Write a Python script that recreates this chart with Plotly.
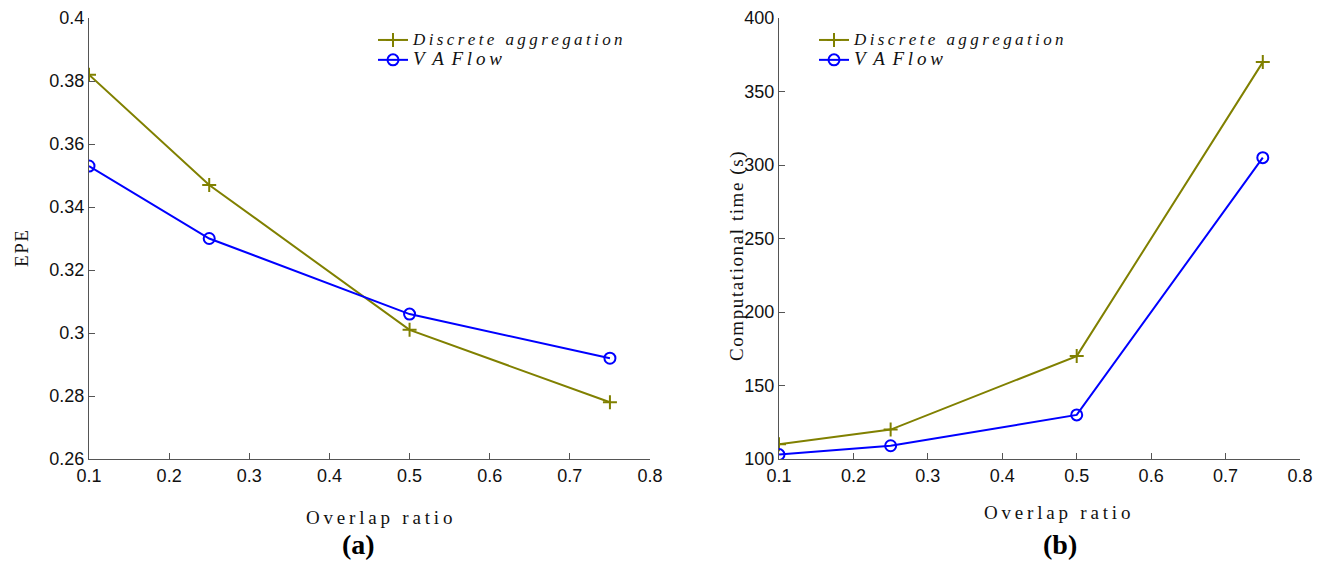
import plotly.graph_objects as go

overlap = [0.1, 0.25, 0.5, 0.75]
epe_discrete = [0.382, 0.347, 0.301, 0.278]
epe_vaflow = [0.353, 0.330, 0.306, 0.292]
time_discrete = [110, 120, 170, 370]
time_vaflow = [103, 109, 130, 305]
x_ticks = [0.1, 0.2, 0.3, 0.4, 0.5, 0.6, 0.7, 0.8]
epe_ticks = [0.26, 0.28, 0.3, 0.32, 0.34, 0.36, 0.38, 0.4]
epe_ticktext = ["0.26", "0.28", "0.3", "0.32", "0.34", "0.36", "0.38", "0.4"]
time_ticks = [100, 150, 200, 250, 300, 350, 400]

W, H = 1326, 562
OLIVE = "#808000"
BLUE = "#0000ff"
TH = "\u2009"   # thin space used as letter spacing
HA = "\u200a"   # hair space
NB = "\u00a0"   # non-breaking word space


def spaced(s, sep):
    return sep.join(list(s))


name_discrete = ('<span style="font-size:17px"><i>' + spaced("Discrete", TH) + TH + NB + TH
                 + spaced("aggregation", TH) + "</i></span>")
name_vaflow = ('<span style="font-size:19px"><i>V' + TH + TH + "A" + TH + TH + "F" + TH + "l" + TH + "o"
               + TH + "w</i></span>")

fig = go.Figure()


def add_pair(xa, ya, yd, yv, legend):
    fig.add_trace(go.Scatter(x=overlap, y=yd, mode="lines+markers", name=name_discrete,
                             line=dict(color=OLIVE, width=2),
                             marker=dict(symbol="cross-thin", size=10, line=dict(color=OLIVE, width=2)),
                             xaxis=xa, yaxis=ya, legend=legend))
    fig.add_trace(go.Scatter(x=overlap, y=yv, mode="lines+markers", name=name_vaflow,
                             line=dict(color=BLUE, width=2),
                             marker=dict(symbol="circle-open", size=11, color=BLUE, line=dict(color=BLUE, width=2)),
                             xaxis=xa, yaxis=ya, legend=legend))


add_pair("x", "y", epe_discrete, epe_vaflow, "legend")
add_pair("x2", "y2", time_discrete, time_vaflow, "legend2")

tickfont = dict(family="Liberation Sans, Arial, sans-serif", size=18, color="#111")
ax_common = dict(showgrid=False, zeroline=False, showline=True, linecolor="#555", linewidth=1,
                 ticks="inside", ticklen=6, tickcolor="#555", tickfont=tickfont, mirror=False,
                 automargin=False)

ytop = 1 - 18 / H
ybot = 1 - 459 / H

legend_common = dict(xanchor="left", yanchor="top", bgcolor="rgba(0,0,0,0)",
                     font=dict(family="Liberation Serif, serif", size=13, color="#111"),
                     tracegroupgap=0, itemwidth=30)

fig.update_layout(
    width=W, height=H, margin=dict(l=0, r=0, t=0, b=0),
    plot_bgcolor="white", paper_bgcolor="white",
    xaxis=dict(domain=[89 / W, 650 / W], range=[0.1, 0.8], tickvals=x_ticks, anchor="y", **ax_common),
    yaxis=dict(domain=[ybot, ytop], range=[0.26, 0.4], tickvals=epe_ticks, ticktext=epe_ticktext,
               anchor="x", **ax_common),
    xaxis2=dict(domain=[779 / W, 1300 / W], range=[0.1, 0.8], tickvals=x_ticks, anchor="y2", **ax_common),
    yaxis2=dict(domain=[ybot, ytop], range=[100, 400], tickvals=time_ticks, anchor="x2", **ax_common),
    legend=dict(x=373 / W, y=1 - 25 / H, **legend_common),
    legend2=dict(x=814 / W, y=1 - 25 / H, **legend_common),
    showlegend=True,
)

serif = dict(family="Liberation Serif, serif", size=19, color="#111")
overlap_title = spaced("Overlap", TH) + TH + NB + TH + spaced("ratio", TH)
comp_title = (spaced("Computational", HA) + HA + NB + HA + spaced("time", HA) + HA + NB + HA
              + spaced("(s)", HA))
ann = [
    dict(text=overlap_title, x=379 / W, y=1 - 517 / H,
         xref="paper", yref="paper", showarrow=False, font=serif, xanchor="center", yanchor="middle"),
    dict(text=overlap_title, x=1057 / W, y=1 - 512 / H,
         xref="paper", yref="paper", showarrow=False, font=serif, xanchor="center", yanchor="middle"),
    dict(text=spaced("EPE", HA), x=22 / W, y=1 - 249 / H, xref="paper", yref="paper", showarrow=False,
         font=serif, textangle=-90, xanchor="center", yanchor="middle"),
    dict(text=comp_title, x=737 / W, y=1 - 256 / H, xref="paper", yref="paper", showarrow=False,
         font=serif, textangle=-90, xanchor="center", yanchor="middle"),
    dict(text="<b>(a)</b>", x=358 / W, y=0, xref="paper", yref="paper", showarrow=False,
         font=dict(family="Liberation Serif, serif", size=28, color="#000"), xanchor="center", yanchor="bottom"),
    dict(text="<b>(b)</b>", x=1060 / W, y=0, xref="paper", yref="paper", showarrow=False,
         font=dict(family="Liberation Serif, serif", size=28, color="#000"), xanchor="center", yanchor="bottom"),
]
fig.update_layout(annotations=ann)

fig.write_html("out.html")
